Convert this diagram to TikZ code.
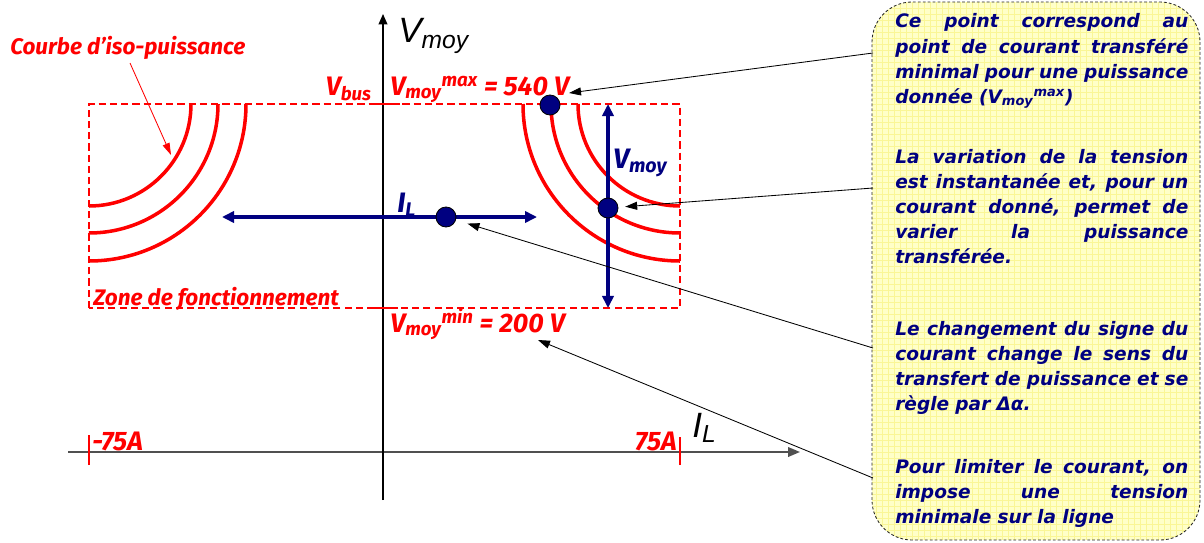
\documentclass[tikz,border=0pt]{standalone}
\usepackage{fontspec}
\setmainfont{Fira Sans}
\newfontfamily\axfont{Liberation Sans}
\newfontfamily\notefont{DejaVu Sans}
\usetikzlibrary{arrows.meta}
\definecolor{cRed}{RGB}{255,0,0}
\definecolor{cNavy}{RGB}{0,0,128}
\definecolor{cNote}{RGB}{255,255,200}
\definecolor{cGrid}{RGB}{250,246,150}
\definecolor{cAxis}{RGB}{80,80,80}
\newlength\notew
\setlength\notew{7.325cm}
\newcommand\jl[1]{\makebox[\notew][s]{\spaceskip=0.3em plus 1fil\relax #1}}
\newcommand\sbs[1]{\textsubscript{#1}}
\newcommand\sps[1]{\textsuperscript{#1}}
\tikzset{
  redlab/.style={text=cRed,inner sep=0,font=\fontsize{16}{18}\selectfont\bfseries\itshape},
  redbig/.style={text=cRed,inner sep=0,font=\fontsize{19}{21}\selectfont\bfseries\itshape},
  axlab/.style={inner sep=0,font=\fontsize{25}{28}\selectfont\axfont\itshape},
  bluelab/.style={text=cNavy,inner sep=0,font=\fontsize{20}{22}\selectfont\bfseries\itshape},
  notetext/.style={text=cNavy,inner sep=0,text width=\notew,align=left,
    font=\fontsize{13.2}{17.78}\selectfont\notefont\bfseries\itshape},
  iso/.style={cRed,line width=2.5pt},
  bluearr/.style={cNavy,line width=2.5pt,{Triangle[length=0.3cm,width=0.28cm]}-{Triangle[length=0.3cm,width=0.28cm]}},
  callout/.style={black,line width=0.6pt,-{Triangle[length=0.3cm,width=0.2cm]}},
  dot/.style={circle,draw=black,line width=0.6pt,fill=cNavy,minimum size=0.5cm,inner sep=0},
}
\begin{document}
\begin{tikzpicture}[x=0.025cm,y=0.025cm]
\useasboundingbox (0,0) rectangle (1204,542);
% note box
\begin{scope}
\clip[rounded corners=1cm] (872,2) rectangle (1200,540);
\fill[cNote] (872,2) rectangle (1200,540);
\draw[cGrid,line width=0.3pt,step=0.15cm] (872,2) grid (1200,540);
\end{scope}
\draw[black!85,line width=0.6pt,dash pattern=on 2pt off 1.5pt,rounded corners=1cm] (872,2) rectangle (1200,540);
% axes
\coordinate (yb) at (383,42);
\coordinate (yt) at (383,528);
\coordinate (xl) at (68,90);
\coordinate (xr) at (800,90);
\draw[cAxis,line width=1.3pt,-{Triangle[length=0.3cm,width=0.24cm]}] (xl) -- (xr);
\draw[black,line width=0.9pt,-{Triangle[length=0.26cm,width=0.22cm]}] (yb) -- (yt);
\node[axlab,anchor=base west] (vlab) at (398,499) {V\sbs{moy}};
\node[axlab,anchor=base west] (ilab) at (692,105) {I\sbs{L}};
% operating zone
\draw[cRed,line width=1pt,dash pattern=on 5pt off 3pt] (89,234) rectangle (680,438);
\draw[cRed,line width=2pt] (370,438) -- (400,438);
\draw[cRed,line width=2pt] (369,234) -- (398,234);
\draw[cRed,line width=1.6pt] (89,77) -- (89,107);
\draw[cRed,line width=1.6pt] (680,77) -- (680,105);
\node[redbig,anchor=base west] (m75) at (92,92) {-75A};
\node[redbig,anchor=base east] (p75) at (677,92) {75A};
% iso-power curves
\foreach \r in {102,129,157} {
  \draw[iso] (89+\r,438) arc[start angle=0,end angle=-90,radius=\r];
  \draw[iso] (680-\r,438) arc[start angle=180,end angle=270,radius=\r];
}
\node[redlab,anchor=base west] (courbe) at (10,487) {Courbe d’iso-puissance};
\coordinate (cTip) at (171,387);
\draw[cRed,line width=0.6pt,-{Triangle[length=0.3cm,width=0.18cm]}] (130,479) -- (cTip);
\node[redlab,anchor=base west] (zone) at (93,237) {Zone de fonctionnement};
\node[redbig,anchor=base east] (vbus) at (372,447) {V\sbs{bus}};
\node[redbig,anchor=base west] (vmax) at (390,447) {V\sbs{moy}\sps{max} = 540 V};
\node[redbig,anchor=base west] (vmin) at (390,210) {V\sbs{moy}\sps{min} = 200 V};
% current and voltage variations
\coordinate (vbot) at (608,234);
\coordinate (vtop) at (608,438);
\coordinate (ileft) at (222,325);
\coordinate (iright) at (537,325);
\draw[bluearr] (vbot) -- (vtop);
\draw[bluearr] (ileft) -- (iright);
\node[bluelab,anchor=base west] (vmoy) at (613,374) {V\sbs{moy}};
\node[bluelab,anchor=base west] (il) at (397,330) {I\sbs{L}};
\node[dot] (pmax) at (550,437) {};
\node[dot] (pmid) at (608,334) {};
\node[dot] (pil) at (446,325) {};
% notes
\node[notetext,anchor=base west] (txa) at (895,514) {\jl{Ce point correspond au}\\
  \jl{point de courant transféré}\\
  \jl{minimal pour une puissance}\\
  donnée (V\sbs{moy}\sps{max})};
\node[notetext,anchor=base west] (txb) at (895,379) {\jl{La variation de la tension}\\
  \jl{est instantanée et, pour un}\\
  \jl{courant donné, permet de}\\
  \jl{varier la puissance}\\
  transférée.};
\node[notetext,anchor=base west] (txc) at (895,207) {\jl{Le changement du signe du}\\
  \jl{courant change le sens du}\\
  \jl{transfert de puissance et se}\\
  règle par Δα.};
\node[notetext,anchor=base west] (txd) at (895,69) {\jl{Pour limiter le courant, on}\\
  \jl{impose une tension}\\
  minimale sur la ligne};
% callouts
\coordinate (n1) at (873,489);
\coordinate (n2) at (873,354);
\coordinate (n3) at (873,194);
\coordinate (n4) at (873,64);
\coordinate (t540) at (569,449);
\coordinate (t200) at (538,202);
\draw[callout] (n1) -- (t540);
\draw[callout,shorten >=0.17cm] (n2) -- (pmid);
\draw[callout,shorten >=0.3cm] (n3) -- (pil);
\draw[callout] (n4) -- (t200);
\end{tikzpicture}
\end{document}
